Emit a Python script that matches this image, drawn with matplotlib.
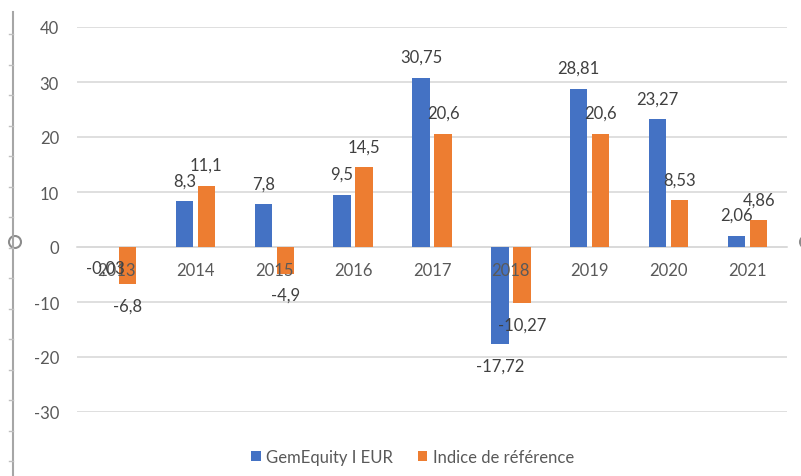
import numpy as np
import matplotlib
matplotlib.use("Agg")
import matplotlib.pyplot as plt
from matplotlib.patches import Patch, Ellipse
from matplotlib.lines import Line2D

years = ["2013", "2014", "2015", "2016", "2017", "2018", "2019", "2020", "2021"]
gem_equity = [-0.03, 8.3, 7.8, 9.5, 30.75, -17.72, 28.81, 23.27, 2.06]
benchmark = [-6.8, 11.1, -4.9, 14.5, 20.6, -10.27, 20.6, 8.53, 4.86]
series_names = ["GemEquity I EUR", "Indice de référence"]
colors = ["#4472C4", "#ED7D31"]
y_ticks = [-30, -20, -10, 0, 10, 20, 30, 40]

plt.rcParams["font.family"] = ["Lato", "DejaVu Sans"]

W, H = 801, 477
fig = plt.figure(figsize=(W / 100, H / 100), dpi=100)
ax = fig.add_axes([77 / W, 1 - 413 / H, 710 / W, 385 / H])

x = np.arange(len(years))
width = 0.22
offset = 0.14
label_color = "#404040"
axis_color = "#595959"
grid_color = "#d9d9d9"


def fmt(v):
    return f"{v:g}".replace(".", ",")


for vals, dx, color in zip([gem_equity, benchmark], [-offset, offset], colors):
    ax.bar(x + dx, vals, width, color=color, zorder=3)
    for xi, v in zip(x + dx, vals):
        ax.annotate(fmt(v), (xi, v), xytext=(0, 15 if v >= 0 else -15),
                    textcoords="offset points", ha="center", va="center",
                    fontsize=12, color=label_color, zorder=6)

ax.set_xlim(-0.5, len(years) - 0.5)
ax.set_ylim(-30, 40)
ax.set_yticks(y_ticks)
ax.set_yticklabels([str(t) for t in y_ticks])
ax.yaxis.grid(True, color=grid_color, linewidth=1.2, zorder=0)
ax.set_axisbelow(False)
ax.set_xticks(x)
ax.set_xticklabels(years)
ax.tick_params(axis="y", length=0, pad=13, labelsize=12, labelcolor=axis_color)
ax.tick_params(axis="x", length=0, pad=11, labelsize=12, labelcolor=axis_color)
ax.xaxis.set_zorder(5)
ax.yaxis.set_zorder(1)
for s in ["top", "left", "right"]:
    ax.spines[s].set_visible(False)
ax.spines["bottom"].set_position(("data", 0))
ax.spines["bottom"].set_color(grid_color)
ax.spines["bottom"].set_linewidth(1.2)
ax.spines["bottom"].set_zorder(1)

handles = [Patch(facecolor=c, edgecolor="none") for c in colors]
fig.legend(handles, series_names, loc="center", bbox_to_anchor=(413 / W, 1 - 458 / H),
           ncol=2, frameon=False, fontsize=12, labelcolor=axis_color,
           handlelength=0.55, handleheight=0.55, handletextpad=0.35,
           columnspacing=1.5)

# selection frame decoration on the left, handles on both sides
fig.add_artist(Line2D([13 / W, 13 / W], [0, 1 - 13 / H], color="#a6a6a6", linewidth=1.5))
for yp in np.arange(35, H, 30.5):
    fig.add_artist(Line2D([9 / W, 13 / W], [1 - yp / H, 1 - yp / H], color="#bfbfbf", linewidth=1))
for cx in [15, 806]:
    fig.add_artist(Ellipse((cx / W, 1 - 243 / H), 12 / W, 12 / H, facecolor="white",
                           edgecolor="#8c8c8c", linewidth=1.5, transform=fig.transFigure))

fig.savefig("out.png", dpi=100)
